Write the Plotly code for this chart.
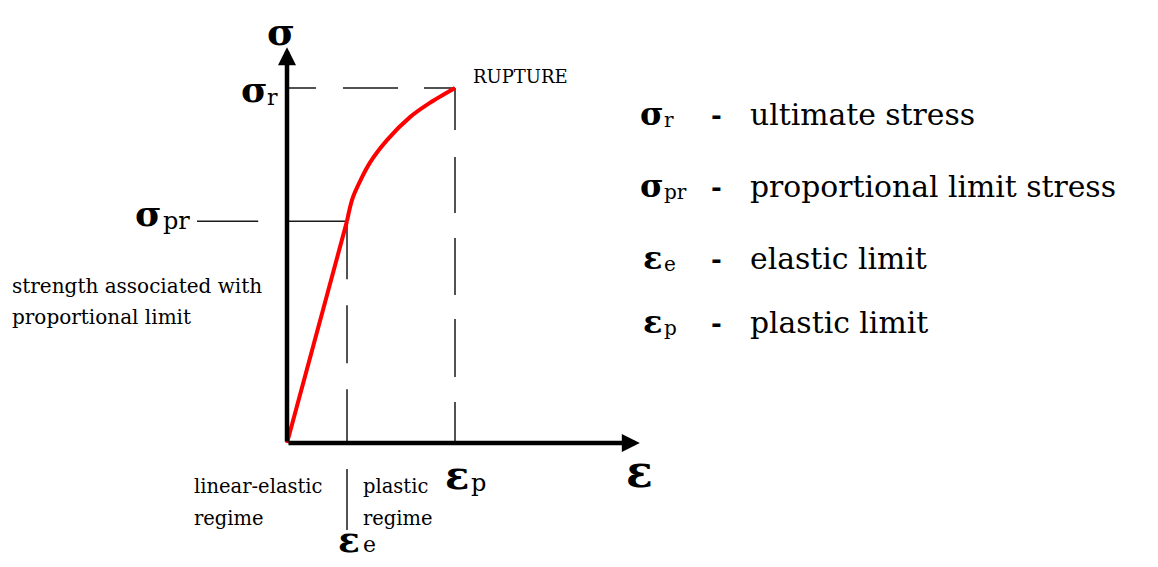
import plotly.graph_objects as go

W, H = 1158, 567
OFF = 8  # the page body adds an 8px margin around the figure

# stress-strain diagram values (strain in arbitrary units, stress in % of ultimate)
eps_e = 1.0
eps_p = 2.8
sigma_pr = 62.5
sigma_r = 100.0
strain_max = 5.88
stress_max = 111.5

elastic_strain = [0.0, eps_e]
elastic_stress = [0.0, sigma_pr]
plastic_strain = [eps_e, 1.1, 1.38, 1.67, 2.05, 2.38, eps_p]
plastic_stress = [sigma_pr, 69.3, 78.9, 85.4, 91.8, 95.8, sigma_r]

legend_symbols = ["σ", "σ", "ε", "ε"]
legend_subs = ["r", "pr", "e", "p"]
legend_texts = ["ultimate stress", "proportional limit stress", "elastic limit", "plastic limit"]

# pixel mapping of the drawing area
X0, Y0 = 287, 443
XS, YS = 60.0, 3.55

SERIF = "DejaVu Serif"
INK = "#1a1a1a"


def P(xp, yp):
    return (xp - OFF) / (W - OFF), 1 - (yp - OFF) / (H - OFF)


fig = go.Figure()

line_kw = dict(mode="lines", hoverinfo="skip", showlegend=False)

# guide lines
fig.add_trace(go.Scatter(x=[0, eps_p], y=[sigma_r, sigma_r],
                         line=dict(color=INK, width=1.5, dash="29px,27px,55px,26px,31px"), **line_kw))
fig.add_trace(go.Scatter(x=[eps_p, eps_p], y=[sigma_r, 0],
                         line=dict(color=INK, width=1.5, dash="42px,27px,56px,25px,57px,24px,58px,25px"),
                         **line_kw))
fig.add_trace(go.Scatter(x=[0, eps_e], y=[sigma_pr, sigma_pr],
                         line=dict(color=INK, width=1.5), **line_kw))
fig.add_trace(go.Scatter(x=[eps_e, eps_e], y=[sigma_pr, 0],
                         line=dict(color=INK, width=1.5, dash="58px,26px"), **line_kw))
# leader line next to sigma_pr label
fig.add_trace(go.Scatter(x=[-1.5, -0.48], y=[sigma_pr, sigma_pr],
                         line=dict(color=INK, width=1.5), **line_kw))
# separator between regimes under the axis
fig.add_trace(go.Scatter(x=[eps_e, eps_e], y=[-7.3, -24.5],
                         line=dict(color=INK, width=1.5), **line_kw))

# stress-strain curve
fig.add_trace(go.Scatter(x=elastic_strain, y=elastic_stress,
                         line=dict(color="#ff0000", width=4), **line_kw))
fig.add_trace(go.Scatter(x=plastic_strain, y=plastic_stress,
                         line=dict(color="#ff0000", width=4, shape="spline", smoothing=0.8), **line_kw))

# axes with arrows
for xe, ye in [(strain_max, 0), (0, stress_max)]:
    fig.add_annotation(x=xe, y=ye, ax=0, ay=0, xref="x", yref="y", axref="x", ayref="y",
                       text="", showarrow=True, arrowhead=2, arrowwidth=4.5, arrowsize=0.8,
                       arrowcolor="#000", standoff=0, startstandoff=0)

ann = []


def text(s, xp, yp, size, bold=False, xanchor="left", family=SERIF):
    x, y = P(xp, yp)
    ann.append(dict(text=f"<b>{s}</b>" if bold else s, x=x, y=y, xref="paper", yref="paper",
                    xanchor=xanchor, yanchor="middle", showarrow=False,
                    font=dict(family=family, size=size, color="#000")))


# axis symbols
text("σ", 281, 32, 38, True, "center")
text("ε", 639, 471, 44, True, "center")
# sigma_r
text("σ", 254, 89, 36, True, "center")
text("r", 265, 98, 22)
# sigma_pr
text("σ", 148, 213, 36, True, "center")
text("pr", 161, 221, 24)
# eps_p
text("ε", 457, 474, 40, True, "center")
text("p", 469, 483, 24)
# eps_e
text("ε", 349, 539, 36, True, "center")
text("e", 361, 544, 22)

text("RUPTURE", 471, 76, 18)
text("strength associated with", 10, 286, 20)
text("proportional limit", 10, 317, 20)
text("linear-elastic", 192, 486, 19.5)
text("regime", 192, 518, 19.5)
text("plastic", 361, 486, 19.5)
text("regime", 361, 518, 19.5)

# legend on the right
row_y = [114, 186, 258, 322]
for sym, sub, desc, yy in zip(legend_symbols, legend_subs, legend_texts, row_y):
    text(sym, 652, yy, 32, True, "center")
    text(sub, 662, yy + 6, 20)
    text("-", 716, yy + 1, 26, True, "center")
    text(desc, 748, yy, 29.8)

fig.update_layout(annotations=list(fig.layout.annotations) + ann)

fig.update_xaxes(range=[(OFF - X0) / XS, (W - X0) / XS], visible=False, fixedrange=True)
fig.update_yaxes(range=[-(H - Y0) / YS, (Y0 - OFF) / YS], visible=False, fixedrange=True)
fig.update_layout(
    width=W - OFF, height=H - OFF,
    margin=dict(l=0, r=0, t=0, b=0),
    paper_bgcolor="white", plot_bgcolor="white",
    showlegend=False,
)

fig.write_html("out.html")
